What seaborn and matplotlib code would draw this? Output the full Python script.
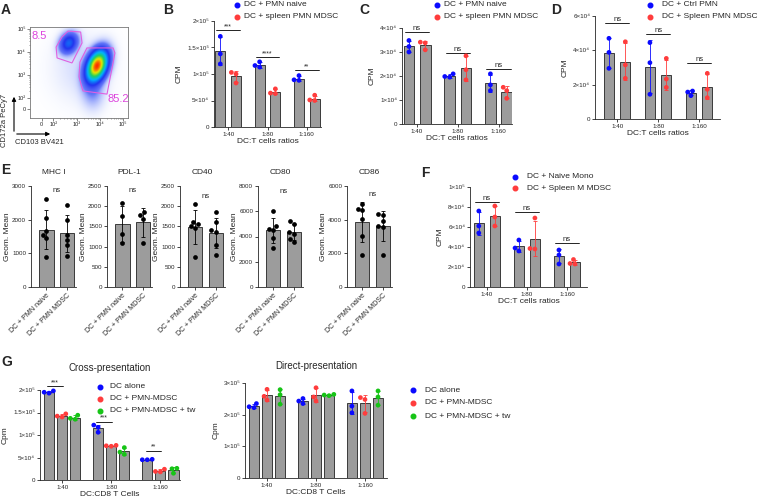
import numpy as np
import pandas as pd
import seaborn as sns
import matplotlib.pyplot as plt
from matplotlib.lines import Line2D
from matplotlib.patches import Polygon, FancyArrowPatch
from matplotlib.colors import LinearSegmentedColormap

W, H = 757, 504
BAR = '#9c9c9c'
EDGE = '#3a3a3a'
BLUE, RED, GREEN = '#0a0aff', '#ff3c3c', '#16c416'

ratios = ['1:40', '1:80', '1:160']

# --- A: flow populations (decade units), gates and percentages
pop_x = [3.88, 2.66, 3.70, 3.20]
pop_y = [3.40, 4.40, 2.30, 3.30]
pop_sx = [0.28, 0.24, 0.30, 0.75]
pop_sy = [0.42, 0.28, 0.50, 0.90]
pop_rho = [0.35, 0.2, 0.0, 0.0]
pop_w = [1.0, 0.24, 0.05, 0.015]
gate_small = [(2.63, 4.92), (3.17, 4.88), (3.23, 4.40), (2.80, 3.52), (2.16, 3.74), (2.12, 4.22), (2.37, 4.66)]
gate_main = [(3.44, 4.18), (4.56, 4.18), (4.64, 3.96), (4.30, 2.15), (3.27, 2.29), (3.10, 2.90), (3.14, 3.56)]
pct_small, pct_main = '8.5', '85.2'

# --- B
b_groups = ['DC + PMN naive', 'DC + spleen PMN MDSC']
b_naive = [[1.71e5, 1.38e5, 1.19e5], [1.23e5, 1.16e5, 1.13e5], [0.97e5, 0.88e5, 0.89e5]]
b_mdsc = [[1.03e5, 1.00e5, 0.83e5], [0.72e5, 0.63e5, 0.64e5], [0.60e5, 0.50e5, 0.51e5]]
b_sig = ['***', '****', '**']
b_sig_y = [1.83e5, 1.32e5, 1.07e5]

# --- C
c_groups = ['DC + PMN naive', 'DC + spleen PMN MDSC']
c_naive = [[3.48e4, 3.23e4, 3.00e4], [2.09e4, 1.95e4, 1.98e4], [2.09e4, 1.63e4, 1.39e4]]
c_mdsc = [[3.41e4, 3.38e4, 3.09e4], [2.84e4, 2.26e4, 1.84e4], [1.53e4, 1.39e4, 1.07e4]]
c_sig = ['ns', 'ns', 'ns']
c_sig_y = [3.85e4, 2.95e4, 2.3e4]

# --- D
d_groups = ['DC + Ctrl PMN', 'DC + Spleen PMN MDSC']
d_ctrl = [[4.70e4, 3.88e4, 2.95e4], [4.45e4, 3.28e4, 1.44e4], [1.36e4, 1.63e4, 1.57e4]]
d_mdsc = [[4.50e4, 3.15e4, 2.37e4], [3.53e4, 2.33e4, 1.84e4], [2.66e4, 1.73e4, 1.24e4]]
d_sig = ['ns', 'ns', 'ns']
d_sig_y = [5.6e4, 4.95e4, 3.25e4]

# --- E
e_groups = ['DC + PMN naive', 'DC + PMN MDSC']
e_titles = ['MHC I', 'PDL-1', 'CD40', 'CD80', 'CD86']
e_mhc = [[2600, 2050, 1650, 1550, 1450, 880], [2450, 2000, 1550, 1400, 1250, 930]]
e_pdl = [[2080, 1750, 1300, 1080], [1850, 1780, 1680, 1080]]
e_cd40 = [[2050, 1600, 1550, 1500, 1450, 750], [1850, 1600, 1400, 1350, 1050, 800]]
e_cd80 = [[6000, 4800, 4600, 4500, 3900, 3100], [5200, 5000, 4350, 4200, 3800, 3600]]
e_cd86 = [[4950, 4650, 4550, 4050, 3050, 1900], [4350, 4250, 3950, 3650, 3550, 1900]]
e_ticks = [[0, 1000, 2000, 3000], [0, 500, 1000, 1500, 2000, 2500], [0, 500, 1000, 1500, 2000, 2500],
           [0, 2000, 4000, 6000, 8000], [0, 2000, 4000, 6000]]
e_ns_y = [2750, 2300, 2150, 7300, 5300]

# --- F
f_groups = ['DC + Naive Mono', 'DC + Spleen M MDSC']
f_naive = [[7.6e4, 6.1e4, 5.4e4], [4.7e4, 3.9e4, 3.6e4], [3.7e4, 3.2e4, 2.3e4]]
f_mdsc = [[8.1e4, 7.0e4, 6.1e4], [6.9e4, 3.85e4, 3.8e4], [2.75e4, 2.35e4, 2.3e4]]
f_sig = ['ns', 'ns', 'ns']
f_sig_y = [8.5e4, 7.5e4, 4.4e4]

# --- G
g_groups = ['DC alone', 'DC + PMN-MDSC', 'DC + PMN-MDSC + tw']
g_cross_alone = [[1.98e5, 1.93e5, 1.95e5], [1.22e5, 1.17e5, 1.06e5], [0.46e5, 0.45e5, 0.45e5]]
g_cross_mdsc = [[1.47e5, 1.42e5, 1.40e5], [0.77e5, 0.76e5, 0.75e5], [0.24e5, 0.19e5, 0.18e5]]
g_cross_tw = [[1.44e5, 1.37e5, 1.35e5], [0.72e5, 0.62e5, 0.57e5], [0.26e5, 0.25e5, 0.15e5]]
g_cross_sig = ['***', '***', '**']
g_cross_sig_y = [2.08e5, 1.3e5, 0.65e5]
g_direct_alone = [[2.35e5, 2.25e5, 2.22e5], [2.51e5, 2.43e5, 2.35e5], [2.75e5, 2.27e5, 2.06e5]]
g_direct_mdsc = [[2.80e5, 2.58e5, 2.46e5], [2.85e5, 2.56e5, 2.43e5], [2.54e5, 2.48e5, 2.04e5]]
g_direct_tw = [[2.79e5, 2.63e5, 2.33e5], [2.64e5, 2.62e5, 2.60e5], [2.75e5, 2.56e5, 2.30e5]]

sns.set_style('ticks')
plt.rcParams['font.family'] = ['Liberation Sans', 'DejaVu Sans']
plt.rcParams['axes.linewidth'] = 0.6

fig = plt.figure(figsize=(W / 100, H / 100), dpi=100)


def rect(x0, y0, x1, y1):
    return [x0 / W, 1 - y1 / H, (x1 - x0) / W, (y1 - y0) / H]


def fx(x):
    return x / W


def fy(y):
    return 1 - y / H


def letter(x, y, s):
    fig.text(fx(x), fy(y), s, fontsize=10, fontweight='bold', va='top')


def legend(x, tx, ys, labels, colors):
    for y, lab, c in zip(ys, labels, colors):
        fig.add_artist(Line2D([fx(x)], [fy(y)], marker='o', ms=3.3, color=c, lw=0,
                              transform=fig.transFigure))
        fig.text(fx(tx), fy(y), lab, fontsize=6, va='center')


def to_long(series, groups, cats):
    rows = []
    for g, vals in zip(groups, series):
        for c, pts in zip(cats, vals):
            for v in pts:
                rows.append((c, g, v))
    return pd.DataFrame(rows, columns=['cat', 'group', 'val'])


def style(ax, yticks, yticklabels, ylabel, xlabel, labelpad=3):
    sns.despine(ax=ax)
    ax.set_yticks(yticks)
    ax.set_yticklabels(yticklabels)
    ax.set_ylim(yticks[0], yticks[-1])
    ax.spines['left'].set_bounds(yticks[0], yticks[-1])
    ax.tick_params(length=2, width=0.6, labelsize=4.5, pad=1.5)
    ax.set_ylabel(ylabel, fontsize=6, labelpad=labelpad)
    ax.set_xlabel(xlabel, fontsize=6, labelpad=1)


def bar_panel(box, series, groups, colors, xlim, yticks, yticklabels, sig, sig_y,
              sig_span, gap, ylabel='CPM', xlabel='DC:T cells ratios'):
    ax = fig.add_axes(rect(*box))
    df = to_long(series, groups, ratios)
    n = len(groups)
    sns.barplot(data=df, x='cat', y='val', hue='group', order=ratios, hue_order=groups,
                palette=[BAR] * n, errorbar=None, width=0.8, gap=gap, edgecolor=EDGE,
                linewidth=0.7, legend=False, ax=ax)
    step = 0.8 / n
    for j, g in enumerate(groups):
        for i, c in enumerate(ratios):
            v = df[(df.group == g) & (df.cat == c)].val
            ax.errorbar(i + (j - (n - 1) / 2) * step, v.mean(), yerr=v.std(), color=colors[j],
                        lw=0.6, capsize=1.6, capthick=0.6, zorder=3, clip_on=False)
    sns.swarmplot(data=df, x='cat', y='val', hue='group', order=ratios, hue_order=groups,
                  palette=colors, dodge=True, size=3.4, legend=False, ax=ax, zorder=4,
                  clip_on=False, linewidth=0)
    for i, (s, y) in enumerate(zip(sig, sig_y)):
        if not s:
            continue
        ax.plot([i + sig_span[0], i + sig_span[1]], [y, y], color='k', lw=0.6, clip_on=False)
        ax.text(i + (sig_span[0] + sig_span[1]) / 2, y, s, ha='center', va='bottom',
                fontsize=5.5 if s == 'ns' else 5)
    ax.set_xlim(*xlim)
    style(ax, yticks, yticklabels, ylabel, xlabel)
    return ax


# ---------------- A
ax = fig.add_axes(rect(30, 27, 128, 118))
xs = np.linspace(1.0, 5.2, 200)
ys = np.linspace(1.1, 5.1, 190)
X, Y = np.meshgrid(xs, ys)
Z = np.zeros_like(X)
for mx, my, sx, sy, r, w in zip(pop_x, pop_y, pop_sx, pop_sy, pop_rho, pop_w):
    u = (X - mx) / sx
    v = (Y - my) / sy
    Z += w * np.exp(-(u * u - 2 * r * u * v + v * v) / (2 * (1 - r * r)))
Z = Z / Z.max()
flow_cmap = LinearSegmentedColormap.from_list(
    'flow', ['#8aa0ff', '#2233ee', '#00b4ff', '#20d060', '#e8e800', '#ff3000'])
rgba = flow_cmap(np.clip(Z, 0, 1) ** 0.9)
rgba[..., 3] = np.clip(Z / 0.06, 0, 1) ** 0.8
ax.imshow(rgba, extent=(1.0, 5.2, 1.1, 5.1), origin='lower', aspect='auto',
          interpolation='bilinear')
ax.add_patch(Polygon(gate_small, closed=True, fill=False, ec='#e060e0', lw=0.8))
ax.add_patch(Polygon(gate_main, closed=True, fill=False, ec='#e060e0', lw=0.8))
ax.text(1.08, 4.93, pct_small, color='#dd44dd', fontsize=8, va='top')
ax.text(4.33, 1.95, pct_main, color='#dd44dd', fontsize=8, va='center')
ax.set_xlim(1.0, 5.2)
ax.set_ylim(1.1, 5.1)
dec = ['0', '10²', '10³', '10⁴', '10⁵']
ax.set_xticks([1.5, 2, 3, 4, 5])
ax.set_xticklabels(dec)
ax.set_yticks([1.5, 2, 3, 4, 5])
ax.set_yticklabels(dec)
minor = [d + np.log10(k) for d in range(2, 5) for k in range(2, 10)]
ax.set_xticks(minor, minor=True)
ax.set_yticks(minor, minor=True)
ax.tick_params(length=2, width=0.5, labelsize=4, pad=1, color='#555555')
ax.tick_params(which='minor', length=1, width=0.4, color='#555555')
for sp in ax.spines.values():
    sp.set_color('#777777')
fig.add_artist(FancyArrowPatch((fx(14), fy(134)), (fx(14), fy(94)), transform=fig.transFigure,
                               arrowstyle='-|>', mutation_scale=6, lw=0.8, color='k'))
fig.add_artist(FancyArrowPatch((fx(14), fy(134)), (fx(53), fy(134)), transform=fig.transFigure,
                               arrowstyle='-|>', mutation_scale=6, lw=0.8, color='k'))
fig.text(fx(5), fy(120), 'CD172a PeCy7', rotation=90, fontsize=5.5, ha='center', va='center')
fig.text(fx(15), fy(143), 'CD103 BV421', fontsize=5.5, va='center')
letter(1, 3, 'A')

# ---------------- B
bar_panel((214, 21, 321, 127), [b_naive, b_mdsc], b_groups, [BLUE, RED], (-0.36, 2.36),
          [0, 5e4, 1e5, 1.5e5, 2e5], ['0', '5×10⁴', '1×10⁵', '1.5×10⁵', '2×10⁵'],
          b_sig, b_sig_y, (-0.3, 0.3), 0.35)
legend(237, 244, [5, 17], b_groups, [BLUE, RED])
letter(163, 3, 'B')

# ---------------- C
bar_panel((402, 28, 512, 124), [c_naive, c_mdsc], c_groups, [BLUE, RED], (-0.37, 2.33),
          [0, 1e4, 2e4, 3e4, 4e4], ['0', '1×10⁴', '2×10⁴', '3×10⁴', '4×10⁴'],
          c_sig, c_sig_y, (-0.3, 0.3), 0.35)
legend(437, 444, [5, 17], c_groups, [BLUE, RED])
letter(359, 3, 'C')

# ---------------- D
bar_panel((595, 16, 720, 119), [d_ctrl, d_mdsc], d_groups, [BLUE, RED], (-0.54, 2.51),
          [0, 2e4, 4e4, 6e4], ['0', '2×10⁴', '4×10⁴', '6×10⁴'],
          d_sig, d_sig_y, (-0.3, 0.3), 0.4)
legend(650, 662, [5, 17], d_groups, [BLUE, RED])
letter(551, 3, 'D')

# ---------------- E
e_data = [e_mhc, e_pdl, e_cd40, e_cd80, e_cd86]
e_x = [31, 107, 180, 258, 347]
for title, data, ticks, ns_y, x0 in zip(e_titles, e_data, e_ticks, e_ns_y, e_x):
    ax = fig.add_axes(rect(x0, 186, x0 + 45, 287))
    rows = [(g, v) for g, vals in zip(e_groups, data) for v in vals]
    df = pd.DataFrame(rows, columns=['group', 'val'])
    sns.barplot(data=df, x='group', y='val', order=e_groups, color=BAR, errorbar=None,
                width=0.7, edgecolor=EDGE, linewidth=0.7, ax=ax)
    for i, g in enumerate(e_groups):
        v = df[df.group == g].val
        ax.errorbar(i, v.mean(), yerr=v.std(), color='k', lw=0.6, capsize=1.6,
                    capthick=0.6, zorder=3)
    sns.swarmplot(data=df, x='group', y='val', order=e_groups, color='k', size=3.4, ax=ax,
                  zorder=4, clip_on=False, linewidth=0)
    ax.text(0.5, ns_y, 'ns', ha='center', va='bottom', fontsize=5.5)
    ax.set_xlim(-0.75, 1.45)
    style(ax, ticks, [str(t) for t in ticks], 'Geom. Mean', '', labelpad=1)
    ax.tick_params(axis='x', labelrotation=45, labelsize=5)
    for lab in ax.get_xticklabels():
        lab.set_ha('right')
        lab.set_rotation_mode('anchor')
    ax.set_title(title, fontsize=6, pad=9)
letter(1, 163, 'E')

# ---------------- F
bar_panel((470, 187, 587, 287), [f_naive, f_mdsc], f_groups, [BLUE, RED], (-0.42, 2.5),
          [0, 2e4, 4e4, 6e4, 8e4, 1e5], ['0', '2×10⁴', '4×10⁴', '6×10⁴', '8×10⁴', '1×10⁵'],
          f_sig, f_sig_y, (-0.3, 0.3), 0.35)
legend(515, 527, [177, 188], f_groups, [BLUE, RED])
letter(421, 166, 'F')

# ---------------- G
gcol = [BLUE, RED, GREEN]
ax = bar_panel((40, 390, 180, 480), [g_cross_alone, g_cross_mdsc, g_cross_tw], g_groups, gcol,
               (-0.45, 2.4), [0, 5e4, 1e5, 1.5e5, 2e5],
               ['0', '5×10⁴', '1×10⁵', '1.5×10⁵', '2×10⁵'],
               g_cross_sig, g_cross_sig_y, (-0.3, 0.02), 0.22, ylabel='Cpm',
               xlabel='DC:CD8 T Cells')
ax.set_title('Cross-presentation', fontsize=7, pad=14)
legend(100, 110, [387, 399, 411], g_groups, gcol)

ax = bar_panel((245, 383, 387, 478), [g_direct_alone, g_direct_mdsc, g_direct_tw], g_groups, gcol,
               (-0.45, 2.45), [0, 1e5, 2e5, 3e5], ['0', '1×10⁵', '2×10⁵', '3×10⁵'],
               ['', '', ''], [0, 0, 0], (0, 0), 0.22, ylabel='Cpm',
               xlabel='DC:CD8 T Cells')
ax.set_title('Direct-presentation', fontsize=7, pad=10)
legend(413, 425, [390, 403, 416], g_groups, gcol)
letter(1, 355, 'G')

fig.savefig('out.png', dpi=100)
